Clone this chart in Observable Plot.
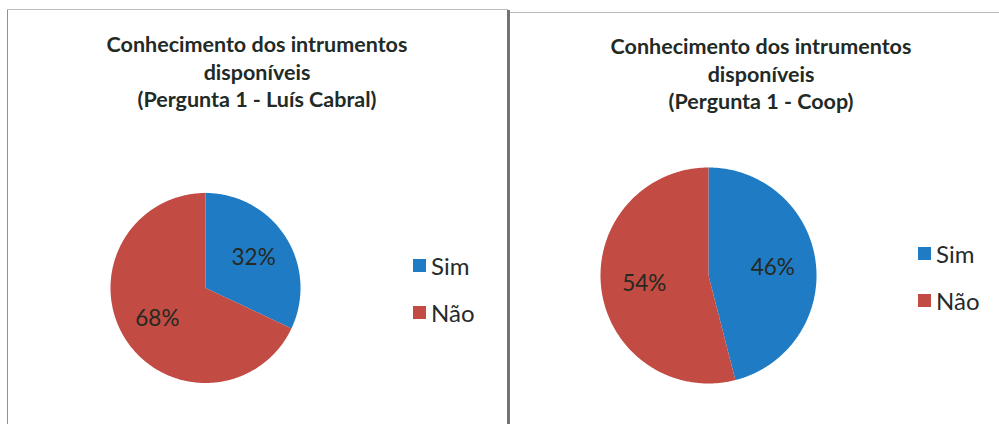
<!DOCTYPE html>
<html>
<head>
<meta charset="utf-8">
<script src="https://cdn.jsdelivr.net/npm/d3@7"></script>
<script src="https://cdn.jsdelivr.net/npm/@observablehq/plot@0.6"></script>
<style>
  body { margin: 0; background: #ffffff; }
  #page { position: relative; width: 999px; height: 424px; overflow: hidden; font-family: Lato, "Open Sans", sans-serif; background: #fff; }
  .border { position: absolute; }
  .title { position: absolute; width: 420px; text-align: center; font-weight: 700; font-size: 21.5px; line-height: 27.5px; color: #222a26; white-space: nowrap; }
  .chart { position: absolute; top: 0; }
  .leg { position: absolute; }
  .pie-swatches { font-family: Lato, "Open Sans", sans-serif; font-size: 24px; color: #262a28; margin: 0; }
  .pie-swatch { height: 47px; padding-bottom: 0 !important; }
  .pie-swatch > svg { margin-right: 5px !important; }
</style>
</head>
<body>
<div id="page">
  <div class="border" style="left:7px;top:9px;width:1px;height:415px;background:#8e9392"></div>
  <div class="border" style="left:7px;top:9px;width:501px;height:1px;background:#b9bdbc"></div>
  <div class="border" style="left:507px;top:12px;width:492px;height:1px;background:#b9bdbc"></div>
  <div class="border" style="left:507px;top:10px;width:3px;height:414px;background:#6f7574"></div>
</div>
<script>
// ---- data ----
const categories = ["Sim", "Não"];
const valuesLuisCabral = [32, 68];
const valuesCoop = [46, 54];
const titleLuisCabral = ["Conhecimento dos intrumentos", "disponíveis", "(Pergunta 1 - Luís Cabral)"];
const titleCoop = ["Conhecimento dos intrumentos", "disponíveis", "(Pergunta 1 - Coop)"];
const colors = ["#1f7bc4", "#c24b43"];

// ---- layout ----
const panels = [
  {values: valuesLuisCabral, title: titleLuisCabral, left: 0, width: 507, cx: 205, cy: 287.5, r: 95, titleX: 257, titleY: 31, legX: 413, legY: 242},
  {values: valuesCoop, title: titleCoop, left: 510, width: 489, cx: 708, cy: 275, r: 108, titleX: 761, titleY: 33, legX: 918, legY: 230}
];

const page = document.getElementById("page");

for (const p of panels) {
  const data = categories.map((c, i) => ({cat: c, value: p.values[i]}));
  const arcs = d3.pie().sort(null).value(d => d.value)(data);
  const total = d3.sum(p.values);

  // slice polygons (unit radius, angles from the data)
  const pts = [];
  for (const a of arcs) {
    const n = Math.max(8, Math.ceil((a.endAngle - a.startAngle) / 0.01));
    pts.push({cat: a.data.cat, x: 0, y: 0});
    for (let k = 0; k <= n; k++) {
      const t = a.startAngle + (a.endAngle - a.startAngle) * k / n;
      pts.push({cat: a.data.cat, x: Math.sin(t), y: Math.cos(t)});
    }
  }
  const labels = arcs.map(a => {
    const m = (a.startAngle + a.endAngle) / 2;
    return {cat: a.data.cat, x: 0.6 * Math.sin(m), y: 0.6 * Math.cos(m), text: Math.round(a.data.value / total * 100) + "%"};
  });

  const lx = p.cx - p.left;
  const chart = Plot.plot({
    width: p.width,
    height: 424,
    margin: 0,
    style: {background: "transparent", overflow: "visible"},
    x: {domain: [-1, 1], range: [lx - p.r, lx + p.r], axis: null},
    y: {domain: [-1, 1], range: [p.cy + p.r, p.cy - p.r], axis: null},
    color: {domain: categories, range: colors},
    marks: [
      Plot.line(pts, {x: "x", y: "y", z: "cat", fill: "cat", stroke: "none", curve: "linear-closed"}),
      Plot.text(labels, {x: "x", y: "y", text: "text", fill: "#26291f", fontSize: 22.5, fontFamily: "Lato, 'Open Sans', sans-serif"})
    ]
  });
  chart.classList.add("chart");
  chart.style.left = p.left + "px";
  chart.style.position = "absolute";
  page.appendChild(chart);

  const t = document.createElement("div");
  t.className = "title";
  t.style.left = (p.titleX - 210) + "px";
  t.style.top = p.titleY + "px";
  t.innerHTML = p.title.map(s => s.replace(/&/g, "&amp;")).join("<br>");
  page.appendChild(t);

  const leg = Plot.legend({color: {domain: categories, range: colors}, legend: "swatches", columns: 1, swatchSize: 13, className: "pie"});
  const wrap = document.createElement("div");
  wrap.className = "leg";
  wrap.style.left = p.legX + "px";
  wrap.style.top = p.legY + "px";
  wrap.appendChild(leg);
  page.appendChild(wrap);
}
</script>
</body>
</html>
